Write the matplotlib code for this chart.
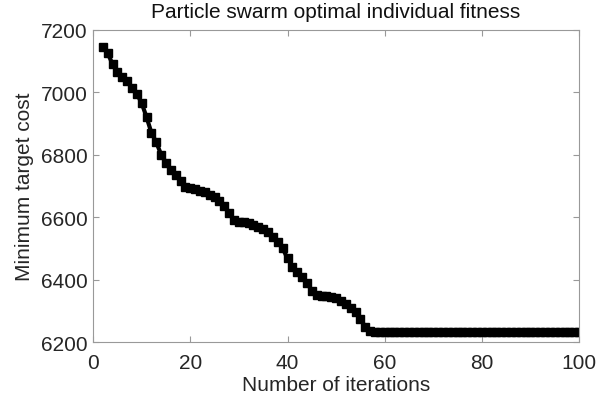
import matplotlib
matplotlib.use("Agg")
import matplotlib.pyplot as plt

iterations = list(range(2, 101))
cost_head = [7145, 7125, 7090, 7065, 7050, 7035, 7015, 6995, 6965, 6920,
             6870, 6840, 6800, 6775, 6750, 6735, 6715, 6698, 6694, 6690,
             6685, 6680, 6672, 6664, 6652, 6635, 6612, 6590, 6585, 6583,
             6580, 6576, 6570, 6562, 6552, 6538, 6520, 6500, 6468, 6442,
             6425, 6408, 6390, 6365, 6352, 6348, 6346, 6344, 6340, 6332,
             6322, 6310, 6296, 6275, 6248, 6234]
cost_tail = [6233] * (len(iterations) - len(cost_head))
cost = cost_head + cost_tail

x_ticks = [0, 20, 40, 60, 80, 100]
y_ticks = [6200, 6400, 6600, 6800, 7000, 7200]

plt.rcParams['font.family'] = ['Liberation Sans', 'DejaVu Sans']

fig = plt.figure(figsize=(5.97, 4.06), dpi=100)
ax = fig.add_axes([0.156, 0.155, 0.814, 0.769])
ax.plot(iterations, cost, color='black', linewidth=3, marker='s',
        markersize=5.5, markerfacecolor='black', markeredgecolor='black')
ax.set_xlim(0, 100)
ax.set_ylim(6200, 7200)
ax.set_xticks(x_ticks)
ax.set_yticks(y_ticks)
ax.tick_params(direction='in', length=4, width=0.8, colors='#999999',
               labelcolor='#262626', labelsize=15, top=True, right=True, pad=4)
ax.tick_params(axis='x', pad=8)
for s in ax.spines.values():
    s.set_color('#999999')
    s.set_linewidth(0.8)
ax.set_title('Particle swarm optimal individual fitness', fontsize=15,
             color='#111111', pad=9)
ax.set_xlabel('Number of iterations', fontsize=15, color='#262626', labelpad=2)
ax.set_ylabel('Minimum target cost', fontsize=15, color='#262626', labelpad=5)
fig.savefig('out.png', dpi=100)
